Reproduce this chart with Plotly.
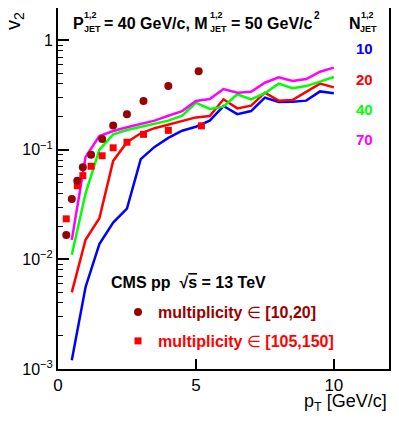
import plotly.graph_objects as go

# ---------------- data ----------------
pt_lines = [0.5, 1.0, 1.5, 2.0, 2.5, 3.0, 3.5, 4.0, 4.5, 5.0,
            5.5, 6.0, 6.5, 7.0, 7.5, 8.0, 8.5, 9.0, 9.5, 10.0]
v2_n10 = [0.0012, 0.0056, 0.0138, 0.0216, 0.029, 0.082, 0.106, 0.128, 0.149, 0.162,
          0.184, 0.25, 0.211, 0.225, 0.298, 0.272, 0.274, 0.28, 0.34, 0.327]
v2_n20 = [0.005, 0.0151, 0.0237, 0.079, 0.117, 0.141, 0.157, 0.17, 0.184, 0.197,
          0.203, 0.288, 0.238, 0.252, 0.331, 0.28, 0.284, 0.338, 0.40, 0.37]
v2_n40 = [0.011, 0.04, 0.1, 0.138, 0.151, 0.162, 0.174, 0.184, 0.204, 0.268,
          0.235, 0.247, 0.32, 0.288, 0.327, 0.40, 0.363, 0.38, 0.417, 0.46]
v2_n70 = [0.015, 0.086, 0.133, 0.148, 0.16, 0.171, 0.184, 0.204, 0.225, 0.278,
          0.29, 0.357, 0.331, 0.338, 0.408, 0.457, 0.423, 0.441, 0.514, 0.56]

pt_low = [0.3, 0.5, 0.7, 0.9, 1.2, 1.6, 2.0, 2.5, 3.1, 4.0, 5.1]
v2_low = [0.0167, 0.0355, 0.052, 0.069, 0.09, 0.125, 0.166, 0.21, 0.278, 0.38, 0.52]

pt_high = [0.3, 0.7, 0.9, 1.2, 1.6, 2.0, 2.5, 3.1, 4.0, 5.2]
v2_high = [0.0234, 0.047, 0.058, 0.0706, 0.088, 0.104, 0.117, 0.138, 0.150, 0.165]

njet_labels = ["10", "20", "40", "70"]
njet_colors = ["#0000ff", "#ff0000", "#00ff00", "#ff00ff"]
y_tickvals = [0.001, 0.01, 0.1, 1]
y_ticktext = ["10<sup>\u22123</sup>", "10<sup>\u22122</sup>", "10<sup>\u22121</sup>", "1"]
x_tickvals = [0, 5, 10]
x_ticktext = ["0", "5", "10"]

# ---------------- layout geometry ----------------
OFF = 8                      # page body margin
W, H = 391, 420
L, R, T, B = 50, 10, 0, 59
PW, PH = W - L - R, H - T - B
FONT = "Liberation Sans, Arial, Helvetica, sans-serif"


def px(xp):
    return (xp - OFF - L) / PW


def py(yp):
    return (H - B - (yp - OFF)) / PH


fig = go.Figure()

for vals, col in zip([v2_n10, v2_n20, v2_n40, v2_n70], njet_colors):
    fig.add_trace(go.Scatter(x=pt_lines, y=vals, mode="lines",
                             line=dict(color=col, width=2.5),
                             showlegend=False, hoverinfo="skip"))

fig.add_trace(go.Scatter(x=pt_high, y=v2_high, mode="markers",
                         marker=dict(symbol="square", size=7, color="#ff0000"),
                         name="<b>multiplicity</b> \u2208 <b>[105,150]</b>",
                         legend="legend2"))
fig.add_trace(go.Scatter(x=pt_low, y=v2_low, mode="markers",
                         marker=dict(symbol="circle", size=8, color="#990000"),
                         name="<b>multiplicity</b> \u2208 <b>[10,20]</b>",
                         legend="legend"))

ann = []


def add(text, xp, yp, size, color="black", xanchor="left", yanchor="middle", angle=0):
    ann.append(dict(text=text, x=px(xp), y=py(yp), xref="paper", yref="paper",
                    xanchor=xanchor, yanchor=yanchor, showarrow=False,
                    textangle=angle,
                    font=dict(family=FONT, size=size, color=color)))


# top header
add("<b>P</b>", 71, 23, 16)
add("<b>1,2</b>", 82, 15, 9)
add("<b>JET</b>", 82, 29, 9)
add("<b>= 40 GeV/c, M</b>", 102, 23, 16)
add("<b>1,2</b>", 208, 15, 9)
add("<b>JET</b>", 208, 29, 9)
add("<b>= 50 GeV/c</b>", 229, 23, 16)
add("<b>2</b>", 312, 15, 10)

# N_JET header and labels
add("<b>N</b>", 347, 23, 16)
add("<b>1,2</b>", 359, 15, 9)
add("<b>JET</b>", 358, 29, 9)
for lab, col, yy in zip(njet_labels, njet_colors, [48, 79, 110, 139]):
    add("<b>%s</b>" % lab, 364, yy, 15, color=col, xanchor="center")

# CMS label
add("<b>CMS pp  \u221A<span style='text-decoration:overline'>s</span> = 13 TeV</b>", 109, 282, 16)

# axis titles
add("v<sub>2</sub>", 15, 10, 20, xanchor="center", yanchor="top", angle=-90)
add("p<sub>T</sub> [GeV/c]", 389, 402, 18, xanchor="right")

fig.update_layout(
    width=W, height=H,
    margin=dict(l=L, r=R, t=T, b=B, autoexpand=False),
    paper_bgcolor="white", plot_bgcolor="white",
    font=dict(family=FONT, color="black"),
    annotations=ann,
    legend=dict(x=px(118), y=py(312), xanchor="left", yanchor="middle",
                bgcolor="rgba(0,0,0,0)", borderwidth=0,
                font=dict(family=FONT, size=16, color="#990000")),
    legend2=dict(x=px(118), y=py(341), xanchor="left", yanchor="middle",
                 bgcolor="rgba(0,0,0,0)", borderwidth=0,
                 font=dict(family=FONT, size=16, color="#ff0000")),
    xaxis=dict(range=[0, 12], showgrid=False, zeroline=False,
               showline=True, linecolor="black", linewidth=2, mirror=True,
               ticks="inside", ticklen=10, tickwidth=1.5, tickcolor="black",
               tickmode="array", tickvals=x_tickvals, ticktext=x_ticktext,
               tickfont=dict(family=FONT, size=17, color="black")),
    yaxis=dict(type="log", range=[-3, 0.292], showgrid=False, zeroline=False,
               showline=True, linecolor="black", linewidth=2, mirror=True,
               ticks="inside", ticklen=11, tickwidth=1.5, tickcolor="black",
               tickmode="array", tickvals=y_tickvals, ticktext=y_ticktext,
               tickfont=dict(family=FONT, size=16, color="black"),
               minor=dict(ticks="inside", ticklen=5, tickwidth=1.2, tickcolor="black",
                          tickvals=[m * 10 ** e for e in (-3, -2, -1, 0)
                                    for m in range(2, 10) if m * 10 ** e <= 2],
                          showgrid=False)),
)

fig.write_html("out.html")
